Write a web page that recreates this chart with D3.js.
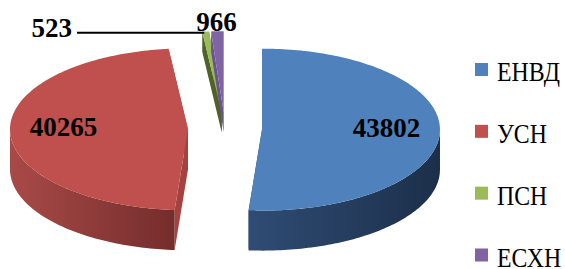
<!DOCTYPE html>
<html lang="ru">
<head>
<meta charset="UTF-8">
<title>Режимы налогообложения</title>
<script src="https://d3js.org/d3.v7.min.js"></script>
<style>
  body { margin: 0; background: #fff; }
</style>
</head>
<body>
<script>
const categories = ["ЕНВД", "УСН", "ПСН", "ЕСХН"];
const values = [43802, 40265, 523, 966];
const topColors = ["#4f81bd", "#c0504d", "#9bbb59", "#8064a2"];
const wallColors = [["#2f4c74", "#1c2f4a"], ["#a84a47", "#742d2c"], ["#5f7732", "#3f5120"], ["#634d80", "#44355a"]];
const cutColors = ["#26405f", "#a3423f", "#4f6228", "#6a5390"];

const width = 565, height = 269;
const cx = 225, cy = 129, rx = 178, ry = 81, depth = 40, explode = 37;
const serif = "Liberation Serif, Times New Roman, serif";

const svg = d3.select("body").append("svg")
    .attr("width", width)
    .attr("height", height);

const defs = svg.append("defs");

// unit circle -> flattened ellipse
const sx = d3.scaleLinear().domain([-1, 1]).range([-rx, rx]);
const sy = d3.scaleLinear().domain([-1, 1]).range([-ry, ry]);

const pie = d3.pie().sort(null).value(d => d);
const arcs = pie(values).map((a, i) => {
    const mid = (a.startAngle + a.endAngle) / 2;
    const e = explode / rx;
    a.i = i;
    a.mid = mid;
    a.c = [cx + sx(e * Math.sin(mid)), cy - sy(e * Math.cos(mid))];
    return a;
});

function pt(c, a, r, dz) {
    return [c[0] + sx(r * Math.sin(a)), c[1] - sy(r * Math.cos(a)) + (dz || 0)];
}
function arcPts(c, a0, a1, dz) {
    const n = Math.max(2, Math.ceil((a1 - a0) / 0.02));
    return d3.range(n + 1).map(k => pt(c, a0 + (a1 - a0) * k / n, 1, dz));
}
const line = d3.line();

// back slices first
const order = [2, 3, 0, 1];

order.forEach(i => {
    const a = arcs[i];
    const g = svg.append("g");
    // thin slices hide most of their side behind the others
    const d = a.endAngle - a.startAngle < 0.1 ? depth / 2 : depth;

    // cut faces
    [a.startAngle, a.endAngle].forEach(ang => {
        const p = pt(a.c, ang, 1);
        const face = [a.c, p, [p[0], p[1] + d], [a.c[0], a.c[1] + d]];
        g.append("path")
            .attr("d", line(face) + "Z")
            .attr("fill", cutColors[i]);
    });

    // outer wall (front half only)
    const w0 = Math.max(a.startAngle, Math.PI / 2);
    const w1 = Math.min(a.endAngle, Math.PI * 3 / 2);
    if (w1 > w0) {
        const grad = defs.append("linearGradient").attr("id", "wall" + i);
        grad.append("stop").attr("offset", "0%").attr("stop-color", wallColors[i][0]);
        grad.append("stop").attr("offset", "100%").attr("stop-color", wallColors[i][1]);
        const topArc = arcPts(a.c, w0, w1, 0);
        const botArc = arcPts(a.c, w0, w1, depth).reverse();
        g.append("path")
            .attr("d", line(topArc.concat(botArc)) + "Z")
            .attr("fill", `url(#wall${i})`);
    }

    // top face
    const topPts = [a.c].concat(arcPts(a.c, a.startAngle, a.endAngle, 0));
    g.append("path")
        .attr("d", line(topPts) + "Z")
        .attr("fill", topColors[i]);
});

// big labels inside slices
[0, 1].forEach(i => {
    const a = arcs[i];
    const p = pt(a.c, a.mid, 0.7);
    svg.append("text")
        .attr("x", p[0])
        .attr("y", p[1])
        .attr("dy", "0.2em")
        .attr("text-anchor", "middle")
        .attr("font-family", serif)
        .attr("font-size", 27)
        .attr("font-weight", "bold")
        .text(values[i]);
});

// small slices: labels outside
const gTop = pt(arcs[2].c, arcs[2].startAngle, 1);
svg.append("line")
    .attr("x1", gTop[0] + 2).attr("y1", gTop[1] + 1)
    .attr("x2", 77).attr("y2", gTop[1] + 1)
    .attr("stroke", "#000").attr("stroke-width", 2);
svg.append("text")
    .attr("x", 72).attr("y", gTop[1] + 5)
    .attr("text-anchor", "end")
    .attr("font-family", serif)
    .attr("font-size", 27).attr("font-weight", "bold")
    .text(values[2]);

const pTop = pt(arcs[3].c, arcs[3].mid, 1);
svg.append("text")
    .attr("x", pTop[0] - 1).attr("y", pTop[1])
    .attr("text-anchor", "middle")
    .attr("font-family", serif)
    .attr("font-size", 27).attr("font-weight", "bold")
    .text(values[3]);

// legend
const legendY = d3.scalePoint().domain(categories).range([69.5, 255]);
const legend = svg.append("g").selectAll("g")
    .data(categories)
    .join("g")
    .attr("transform", d => `translate(475,${legendY(d)})`);
legend.append("rect")
    .attr("x", 0).attr("y", -6.5)
    .attr("width", 13).attr("height", 13)
    .attr("fill", (d, i) => topColors[i]);
legend.append("text")
    .attr("transform", "translate(22,11.5) scale(0.85,1)")
    .attr("font-family", serif)
    .attr("font-size", 28)
    .attr("fill", "#000")
    .text(d => d);
</script>
</body>
</html>
